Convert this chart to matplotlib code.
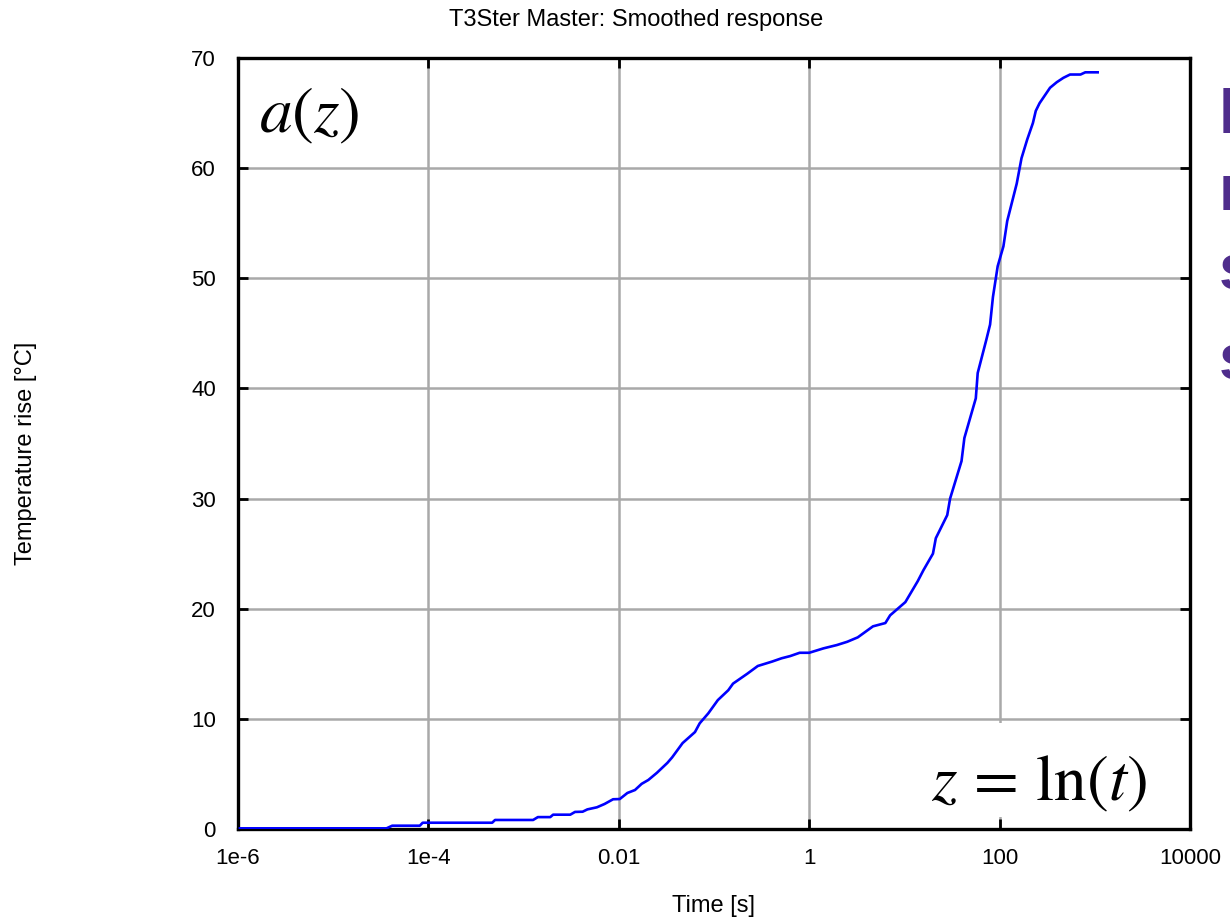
import numpy as np
import matplotlib
matplotlib.use("Agg")
import matplotlib.pyplot as plt
from matplotlib.patches import Rectangle

plt.rcParams["font.family"] = ["Liberation Sans", "DejaVu Sans"]
plt.rcParams["mathtext.fontset"] = "stix"

# smoothed response: log10(time [s]) and temperature rise [C]
log_t = [-5.98, -4.44, -4.38, -4.09, -4.06, -3.33, -3.30, -2.90, -2.85, -2.72,
         -2.69, -2.51, -2.46, -2.38, -2.33, -2.23, -2.15, -2.06, -1.99, -1.91,
         -1.83, -1.76, -1.69, -1.60, -1.49, -1.44, -1.33, -1.20, -1.15, -1.06,
         -0.96, -0.85, -0.80, -0.65, -0.54, -0.39, -0.29, -0.20, -0.10, 0.00,
         0.15, 0.29, 0.40, 0.51, 0.67, 0.80, 0.85, 1.01, 1.14, 1.20,
         1.30, 1.33, 1.45, 1.48, 1.60, 1.63, 1.75, 1.77, 1.86, 1.90,
         1.93, 1.98, 2.04, 2.08, 2.18, 2.23, 2.29, 2.35, 2.38, 2.42,
         2.53, 2.60, 2.67, 2.74, 2.85, 2.90, 3.03]
temp = [0.06, 0.06, 0.30, 0.30, 0.57, 0.57, 0.82, 0.82, 1.08, 1.08,
        1.30, 1.30, 1.55, 1.57, 1.78, 1.97, 2.27, 2.70, 2.72, 3.27,
        3.54, 4.10, 4.45, 5.10, 6.00, 6.50, 7.80, 8.80, 9.60, 10.5,
        11.7, 12.6, 13.2, 14.1, 14.8, 15.2, 15.5, 15.7, 16.0, 16.0,
        16.4, 16.7, 17.0, 17.4, 18.4, 18.7, 19.4, 20.6, 22.5, 23.5,
        25.0, 26.4, 28.5, 30.0, 33.4, 35.5, 39.1, 41.4, 44.4, 45.8,
        48.3, 51.1, 52.9, 55.2, 58.6, 60.9, 62.6, 64.1, 65.2, 65.9,
        67.3, 67.8, 68.2, 68.5, 68.5, 68.7, 68.7]

x_ticks = [1e-6, 1e-4, 1e-2, 1, 100, 10000]
x_labels = ["1e-6", "1e-4", "0.01", "1", "100", "10000"]
y_ticks = [0, 10, 20, 30, 40, 50, 60, 70]

side_letters = ["N", "n", "s", "s"]

t = 10.0 ** np.array(log_t)

fig = plt.figure(figsize=(12.3, 9.24), dpi=100)
ax = fig.add_axes([238 / 1230, 1 - 829 / 924, 952 / 1230, 771 / 924])

ax.set_xscale("log")
ax.set_xlim(1e-6, 1e4)
ax.set_ylim(0, 70)
ax.set_axisbelow(True)
ax.grid(True, color="#a9a9a9", linewidth=1.8)

ax.xaxis.set_major_locator(matplotlib.ticker.FixedLocator(x_ticks))
ax.xaxis.set_major_formatter(matplotlib.ticker.FixedFormatter(x_labels))
ax.xaxis.set_minor_locator(matplotlib.ticker.NullLocator())
ax.set_yticks(y_ticks)
ax.tick_params(which="major", direction="in", length=7, width=2, color="black",
               top=True, right=True, labelsize=16)
ax.tick_params(axis="y", pad=16)
ax.tick_params(axis="x", pad=14)

for sp in ax.spines.values():
    sp.set_linewidth(2.4)
    sp.set_color("black")

# white box behind the z = ln(t) label hides the grid
ax.add_patch(Rectangle((0.68, 0.016), 0.30, 0.122, transform=ax.transAxes,
                       facecolor="white", edgecolor="none", zorder=1))

ax.plot(t, temp, color="#0000ff", linewidth=1.9, zorder=3)

ax.text(0.022, 0.925, r"$a(z)$", transform=ax.transAxes, fontsize=47,
        ha="left", va="center", zorder=4)
ax.text(0.955, 0.058, r"$z\,=\,\ln(t)$", transform=ax.transAxes, fontsize=47,
        ha="right", va="center", zorder=4)

fig.text(714 / 1230, 1 - 906 / 924, "Time [s]", fontsize=17,
         ha="center", va="center")
fig.text(26 / 1230, 1 - 453 / 924, "Temperature rise [°C]", fontsize=17,
         rotation=90, ha="center", va="center")
fig.text(636 / 1230, 1 - 20 / 924, "T3Ster Master: Smoothed response",
         fontsize=17, ha="center", va="center")

for letter, yb in zip(side_letters, [133, 210, 290, 380]):
    fig.text(1219 / 1230, 1 - yb / 924, letter, fontsize=47, color="#4f2d8c",
             ha="left", va="baseline", fontweight="bold")

fig.savefig("out.png", dpi=100)
